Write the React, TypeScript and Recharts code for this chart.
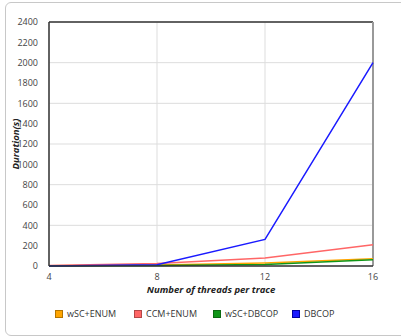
import React from 'react';
import { LineChart, Line, XAxis, YAxis, CartesianGrid, ReferenceLine, Label } from 'recharts';

const threads = [4, 8, 12, 16];
const wscEnum = [2, 10, 30, 72];
const ccmEnum = [5, 25, 78, 208];
const wscDbcop = [1, 5, 15, 62];
const dbcop = [0, 12, 262, 2000];
const yTicks = [0, 200, 400, 600, 800, 1000, 1200, 1400, 1600, 1800, 2000, 2200, 2400];
const xTicks = [4, 8, 12, 16];

const series = [
    { key: 'wscEnum', name: 'wSC+ENUM', color: '#ffa500', border: '#b37400' },
    { key: 'ccmEnum', name: 'CCM+ENUM', color: '#ff6666', border: '#b34747' },
    { key: 'wscDbcop', name: 'wSC+DBCOP', color: '#109618', border: '#0b6a11' },
    { key: 'dbcop', name: 'DBCOP', color: '#1a1aff', border: '#0000a0' },
];

const data = threads.map((t, i) => ({
    threads: t,
    wscEnum: wscEnum[i],
    ccmEnum: ccmEnum[i],
    wscDbcop: wscDbcop[i],
    dbcop: dbcop[i],
}));

const font = '"Open Sans", sans-serif';

export default function App() {
    return (
        <div style={{ position: 'fixed', left: 0, top: 0, width: 401, height: 336, background: '#fff', fontFamily: font }}>
            <div
                style={{
                    position: 'absolute',
                    left: 5,
                    top: 2,
                    width: 420,
                    height: 332,
                    border: '1px solid #c8c8c8',
                    borderRadius: 6,
                }}
            />
            <div style={{ position: 'absolute', left: 0, top: 0 }}>
                <LineChart width={401} height={336} data={data} margin={{ top: 22, right: 28, left: 9, bottom: 37 }}>
                    <CartesianGrid stroke="#dddddd" strokeWidth={1} horizontal={true} vertical={true} />
                    <XAxis
                        dataKey="threads"
                        type="number"
                        domain={[4, 16]}
                        ticks={xTicks}
                        axisLine={{ stroke: '#333', strokeWidth: 1.5 }}
                        tickLine={false}
                        tick={{ fill: '#444', fontSize: 9, fontFamily: font }}
                        tickMargin={2}
                        height={33}
                    >
                        <Label
                            value="Number of threads per trace"
                            position="insideBottom"
                            offset={6}
                            style={{ fill: '#222', fontSize: 9.5, fontWeight: 'bold', fontStyle: 'italic', fontFamily: font }}
                        />
                    </XAxis>
                    <YAxis
                        domain={[0, 2400]}
                        ticks={yTicks}
                        axisLine={{ stroke: '#333', strokeWidth: 1.5 }}
                        tickLine={false}
                        tick={{ fill: '#444', fontSize: 9, fontFamily: font }}
                        width={40}
                        tickMargin={5}
                    >
                        <Label
                            value="Duration(s)"
                            angle={-90}
                            position="insideLeft"
                            offset={7}
                            style={{ fill: '#222', fontSize: 9.5, fontWeight: 'bold', fontStyle: 'italic', fontFamily: font, textAnchor: 'middle' }}
                        />
                    </YAxis>
                    <ReferenceLine y={2400} stroke="#333" strokeWidth={1.5} />
                    <ReferenceLine x={16} stroke="#999" strokeWidth={2} />
                    {series.map((s) => (
                        <Line
                            key={s.key}
                            dataKey={s.key}
                            name={s.name}
                            type="linear"
                            stroke={s.color}
                            strokeWidth={1.5}
                            dot={false}
                            activeDot={false}
                            isAnimationActive={false}
                        />
                    ))}
                </LineChart>
            </div>
            <div
                style={{
                    position: 'absolute',
                    left: 55,
                    top: 307,
                    display: 'flex',
                    fontSize: 9,
                    color: '#333',
                    fontFamily: font,
                }}
            >
                {series.map((s) => (
                    <div key={s.key} style={{ display: 'flex', alignItems: 'center', width: 79 }}>
                        <span
                            style={{
                                display: 'inline-block',
                                width: 6,
                                height: 6,
                                background: s.color,
                                border: `1px solid ${s.border}`,
                                marginRight: 4,
                            }}
                        />
                        <span>{s.name}</span>
                    </div>
                ))}
            </div>
        </div>
    );
}
